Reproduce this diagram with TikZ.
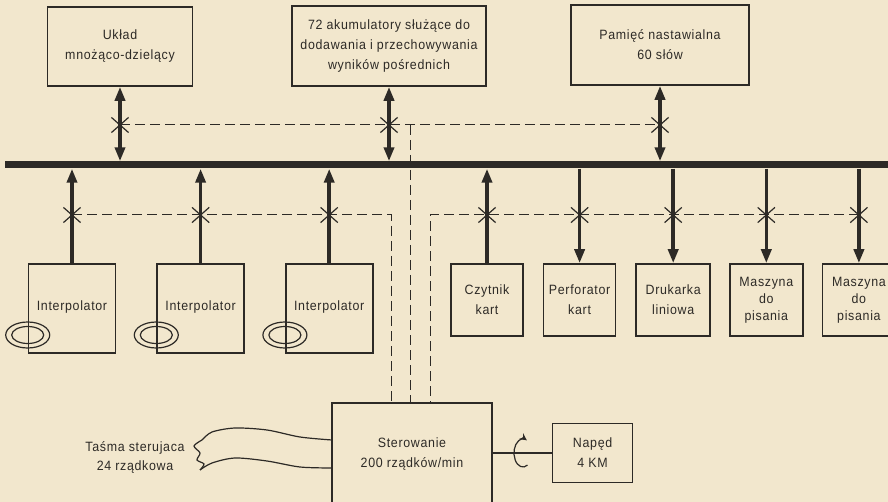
\documentclass[tikz,border=0pt]{standalone}
\usepackage{fontspec}
\setmainfont{Liberation Sans}[LetterSpace=5,FakeStretch=0.92]
\usetikzlibrary{positioning,arrows.meta,shapes.misc}
\definecolor{paper}{RGB}{242,231,205}
\definecolor{ink}{RGB}{45,42,38}

\begin{document}
\begin{tikzpicture}[x=1pt,y=-1pt,>={Triangle[length=14pt,width=10pt]},
  unit/.style={draw=ink,line width=1.6pt,align=center,text=ink,inner sep=0pt,
    font=\fontsize{13.5}{20}\selectfont},
  tight/.style={font=\fontsize{13.5}{17}\selectfont},
  link/.style={ink,line width=3.5pt},
  ctrl/.style={ink,line width=1pt,dash pattern=on 10pt off 5pt},
  xmark/.style={cross out,draw=ink,line width=1.2pt,minimum width=16pt,minimum height=14pt,inner sep=0pt}]
\fill[paper] (0,0) rectangle (888,502);
\clip (0,0) rectangle (888,502);
% top row
\node[unit,minimum width=145pt,minimum height=79pt] (mult) at (120,46.5) {Układ\\mnożąco-dzielący};
\node[unit,minimum width=194pt,minimum height=80pt] (akum) at (389,46) {72 akumulatory służące do\\dodawania i przechowywania\\wyników pośrednich};
\node[unit,minimum width=178pt,minimum height=80pt] (pam) at (660,45) {Pamięć nastawialna\\60 słów};
% bus
\node[fill=ink,minimum width=883pt,minimum height=7pt,inner sep=0pt] (bus) at (446.5,165) {};
% bottom rows
\node[unit,minimum width=87pt,minimum height=89pt] (i1) at (72,308.5) {\raisebox{5pt}{Interpolator}};
\node[unit,minimum width=87pt,minimum height=89pt,right=40pt of i1] (i2) {\raisebox{5pt}{Interpolator}};
\node[unit,minimum width=87pt,minimum height=89pt,right=40pt of i2] (i3) {\raisebox{5pt}{Interpolator}};
\node[unit,minimum width=72pt,minimum height=72pt] (czyt) at (487,300) {Czytnik\\kart};
\node[unit,minimum width=72pt,minimum height=72pt,right=19pt of czyt] (perf) {Perforator\\kart};
\node[unit,minimum width=74pt,minimum height=72pt,right=19pt of perf] (druk) {Drukarka\\liniowa};
\node[unit,tight,minimum width=73pt,minimum height=72pt,right=18pt of druk] (m1) {Maszyna\\do\\pisania};
\node[unit,tight,minimum width=73pt,minimum height=72pt,right=18pt of m1] (m2) {Maszyna\\do\\pisania};
\node[unit,minimum width=160pt,minimum height=100pt] (ster) at (412,453) {\raisebox{3pt}{\begin{tabular}{c}Sterowanie\\200 rządków/min\end{tabular}}};
\node[unit,minimum width=80pt,minimum height=59pt,right=59pt of ster] (naped) {Napęd\\4 KM};
\node[text=ink,align=center,font=\fontsize{13.5}{19}\selectfont] (tlab) at (135,457.5) {Taśma sterujaca\\24 rządkowa};

% arrows to and from the bus
\foreach \n in {mult,akum,pam}
  \draw[link,<->] (\n.south) -- (\n.south |- bus.north);
\foreach \n in {i1,i2,i3,czyt}
  \draw[link,->] (\n.north) -- (\n.north |- bus.south);
\foreach \n in {perf,druk,m1,m2}
  \draw[link,->] (\n.north |- bus.south) -- (\n.north);

% control lines
\foreach \n in {mult,akum,pam}
  \node[xmark] (x\n) at (\n.south |- 0,125) {};
\foreach \n in {i1,i2,i3,czyt,perf,druk,m1,m2}
  \node[xmark] (x\n) at (\n.north |- 0,215) {};
\coordinate (jt) at (410,125);
\coordinate (jl) at (391,215);
\coordinate (jr) at (430,215);
\draw[ctrl] (xmult.center) -- (xpam.center);
\draw[ctrl] (jt) -- (jt |- ster.north);
\draw[ctrl] (xi1.center) -- (jl) -- (jl |- ster.north);
\draw[ctrl] (xm2.center) -- (jr) -- (jr |- ster.north);

% tape reels
\foreach \n in {i1,i2,i3}
  \draw[ink,line width=1.2pt] (\n.west |- 0,335) ellipse [x radius=22pt,y radius=13pt]
    (\n.west |- 0,335) ellipse [x radius=16pt,y radius=8.5pt];

% control tape
\draw[ink,line width=1.2pt] plot[smooth] coordinates {(332,440) (300,437) (267,430) (235,428) (212,432) (202,440)};
\draw[ink,line width=1.2pt] plot[smooth] coordinates {(202,440) (194,446) (200,453) (197,460) (204,464) (200,470)};
\draw[ink,line width=1.2pt] plot[smooth] coordinates {(200,470) (212,463) (235,458) (267,461) (300,467) (332,468)};

% drive
\draw[ink,line width=1.2pt] (ster.east |- naped.west) -- (naped.west);
\draw[ink,line width=1.2pt,-{Stealth[length=7pt,width=7pt]}] (523,453) ++(300:9pt and 14pt)
  arc[start angle=300,end angle=65,x radius=9pt,y radius=14pt];
\end{tikzpicture}
\end{document}
